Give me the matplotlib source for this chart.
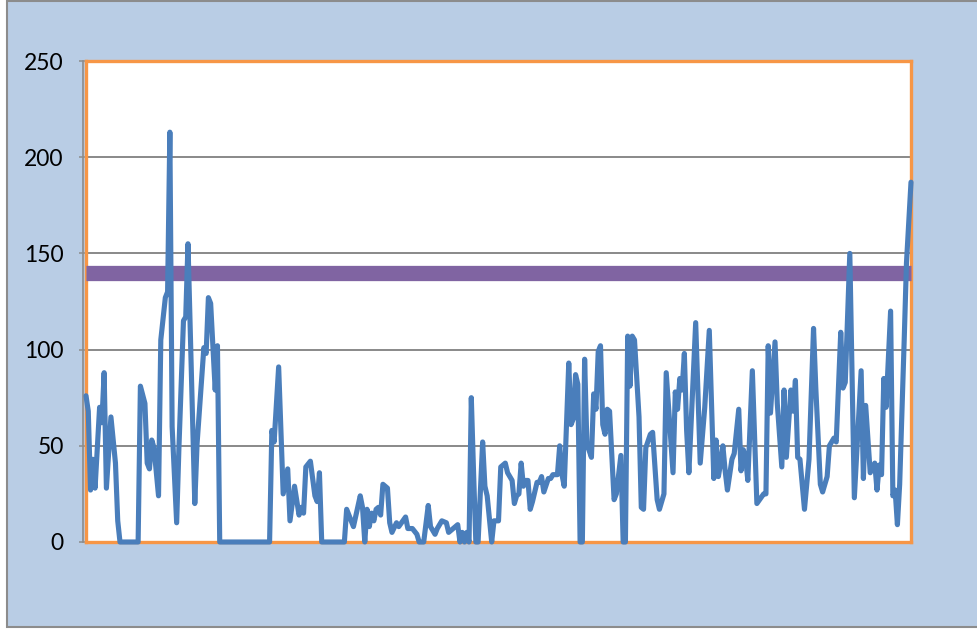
import matplotlib
matplotlib.use('Agg')
import matplotlib.pyplot as plt
from matplotlib.patches import Rectangle
from matplotlib.transforms import offset_copy

# ---- data (day index, value) ----
days = [0, 1, 2, 3, 4, 6, 7, 8, 9, 11,
        13, 14, 15, 23, 24, 26, 27, 28, 29, 30,
        32, 33, 35, 36, 37, 38, 40, 41, 43, 44,
        45, 48, 49, 52, 53, 54, 55, 57, 58, 59,
        81, 82, 83, 85, 87, 89, 90, 92, 94, 95,
        96, 97, 99, 101, 102, 103, 104, 114, 115, 117,
        118, 121, 122, 123, 124, 125, 126, 127, 128, 129,
        130, 131, 133, 134, 135, 137, 138, 141, 142, 144,
        146, 147, 149, 151, 152, 154, 155, 157, 159, 160,
        163, 164, 165, 166, 167, 168, 169, 170, 171, 172,
        173, 175, 176, 177, 179, 180, 182, 183, 185, 186,
        188, 189, 190, 191, 192, 193, 194, 195, 196, 197,
        199, 200, 201, 202, 204, 205, 206, 208, 209, 210,
        211, 213, 214, 215, 216, 217, 218, 219, 220, 221,
        223, 224, 225, 226, 227, 228, 229, 230, 231, 233,
        234, 236, 237, 238, 239, 240, 241, 242, 244, 245,
        246, 247, 249, 250, 252, 253, 255, 256, 258, 259,
        260, 261, 262, 263, 264, 265, 266, 269, 271, 273,
        275, 277, 278, 279, 280, 281, 282, 283, 285, 286,
        288, 289, 290, 291, 292, 294, 296, 299, 300, 301,
        302, 304, 305, 307, 308, 309, 311, 312, 313, 314,
        315, 317, 319, 321, 322, 324, 325, 327, 328, 330,
        331, 333, 334, 335, 337, 339, 342, 343, 344, 346,
        348, 349, 350, 351, 352, 353, 355, 356, 357, 358,
        359, 361, 362, 364]

values = [76, 68, 27, 43, 28, 70, 62, 88, 28, 65,
          41, 11, 0, 0, 81, 72, 41, 38, 53, 49,
          24, 105, 127, 130, 213, 60, 10, 49, 115, 117,
          155, 20, 51, 101, 98, 127, 124, 79, 102, 0,
          0, 58, 52, 91, 25, 38, 11, 29, 14, 18,
          15, 39, 42, 24, 21, 36, 0, 0, 17, 11,
          8, 24, 18, 0, 17, 8, 15, 11, 17, 18,
          14, 30, 28, 10, 5, 10, 8, 13, 7, 7,
          4, 0, 0, 19, 8, 4, 7, 11, 10, 5,
          8, 9, 0, 5, 0, 5, 0, 75, 36, 0,
          0, 52, 29, 24, 0, 11, 11, 39, 41, 36,
          32, 20, 24, 25, 41, 29, 32, 32, 17, 21,
          31, 31, 34, 26, 33, 33, 35, 35, 50, 35,
          29, 93, 61, 64, 87, 82, 0, 0, 95, 51,
          44, 77, 69, 99, 102, 61, 56, 69, 68, 22,
          25, 45, 0, 0, 107, 81, 107, 105, 65, 18,
          17, 49, 56, 57, 22, 17, 25, 88, 53, 36,
          78, 69, 85, 79, 98, 58, 36, 114, 41, 70,
          110, 33, 53, 34, 41, 50, 37, 27, 43, 46,
          69, 37, 48, 44, 32, 89, 20, 25, 25, 102,
          67, 104, 72, 39, 79, 44, 79, 68, 84, 44,
          43, 17, 43, 111, 80, 30, 26, 34, 50, 54,
          52, 109, 80, 83, 150, 23, 89, 33, 71, 36,
          41, 27, 40, 35, 85, 70, 120, 24, 27, 9,
          30, 105, 145, 187]

threshold = 140
first_day, last_day = 0, 364
y_ticks = [0, 50, 100, 150, 200, 250]
y_tick_labels = ['0', '50', '100', '150', '200', '250']

# ---- styling ----
W, H = 978, 629
fig = plt.figure(figsize=(W / 100, H / 100), dpi=100, facecolor='white')
bg = Rectangle((7 / W, 2 / H), 1.2, 626 / H, transform=fig.transFigure,
               facecolor='#B9CDE5', edgecolor='#8C8C8C', lw=1.5, zorder=-10)
fig.add_artist(bg)

ax = fig.add_axes([86 / W, 1 - 542 / H, (911 - 86) / W, (542 - 61) / H], zorder=1)
ax.set_facecolor('white')
ax.set_xlim(first_day, last_day)
ax.set_ylim(0, 250)
ax.set_xticks([])
ax.set_yticks(y_ticks)
ax.set_yticklabels(y_tick_labels, fontfamily='Lato', fontsize=16.5, color='black')
ax.tick_params(axis='y', direction='out', length=5, width=1.1, color='#8C8C8C', pad=11)
ax.yaxis.grid(True, color='#898989', lw=1.4)
ax.set_axisbelow(True)
for s in ax.spines.values():
    s.set_color('#F79646')
    s.set_linewidth(2.4)

# gray value-axis line just left of the plot border
tr = offset_copy(ax.transAxes, fig=fig, x=-2.5, y=0, units='dots')
ax.plot([0, 0], [0, 1], transform=tr, color='#8C8C8C', lw=1.2, clip_on=False, zorder=2)

ax.plot([first_day, last_day], [threshold, threshold], color='#8064A2', lw=11,
        solid_capstyle='butt', zorder=3, clip_on=False)
ax.plot(days, values, color='#4A7EBB', lw=3.7, solid_joinstyle='round',
        solid_capstyle='round', zorder=4, clip_on=False)

fig.savefig('out.png', dpi=100)
